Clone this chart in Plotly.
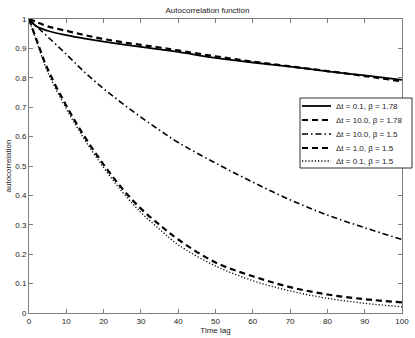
import plotly.graph_objects as go

# time lags and autocorrelation values
lag = [0, 2, 5, 10, 15, 20, 25, 30, 35, 40, 50, 60, 70, 80, 90, 100]

ac_01_178 = [1, 0.975, 0.96, 0.945, 0.933, 0.923, 0.914, 0.905, 0.897, 0.888,
             0.868, 0.852, 0.838, 0.822, 0.808, 0.793]
ac_10_178 = [1, 0.99, 0.975, 0.96, 0.945, 0.932, 0.921, 0.912, 0.903, 0.893,
             0.873, 0.855, 0.839, 0.823, 0.806, 0.788]
ac_10_15 = [1, 0.975, 0.94, 0.88, 0.818, 0.763, 0.713, 0.666, 0.622, 0.58,
            0.51, 0.445, 0.385, 0.333, 0.29, 0.25]
ac_1_15 = [1, 0.93, 0.83, 0.705, 0.598, 0.505, 0.423, 0.355, 0.30, 0.25,
           0.172, 0.125, 0.088, 0.063, 0.047, 0.036]
ac_01_15 = [1, 0.925, 0.82, 0.695, 0.588, 0.495, 0.412, 0.342, 0.285, 0.232,
            0.16, 0.11, 0.075, 0.05, 0.033, 0.021]

names = ["\u0394t = 0.1, \u03b2 = 1.78", "\u0394t = 10.0, \u03b2 = 1.78",
         "\u0394t = 10.0, \u03b2 = 1.5", "\u0394t = 1.0, \u03b2 = 1.5",
         "\u0394t = 0.1, \u03b2 = 1.5"]
series = [ac_01_178, ac_10_178, ac_10_15, ac_1_15, ac_01_15]
styles = [("solid", 1.8), ("6px,4px", 2.2), ("6px,3px,1.5px,3px", 1.6),
          ("6px,4px", 2.2), ("1.2px,2px", 1.3)]

fig = go.Figure()
for nm, ys, (dash, w) in zip(names, series, styles):
    fig.add_trace(go.Scatter(x=lag, y=ys, mode="lines", name=nm, line_shape="spline",
                             showlegend=False,
                             line=dict(color="black", width=w, dash=dash)))

# legend drawn by hand so that rows sit as tight as in the original
W, H, L, B = 373.0, 294.0, 29, 313
px = lambda v: (v - L) / W
py = lambda v: (B - v) / H
fig.add_shape(type="rect", xref="paper", yref="paper",
              x0=px(300), x1=px(412), y0=py(168), y1=py(98),
              line=dict(color="#333", width=1), fillcolor="white", layer="above")
row_y = [106, 120, 134, 148, 161]
for nm, (dash, w), yy in zip(names, styles, row_y):
    fig.add_shape(type="line", xref="paper", yref="paper",
                  x0=px(302), x1=px(331), y0=py(yy), y1=py(yy), layer="above",
                  line=dict(color="black", width=w, dash=dash))
    fig.add_annotation(text=nm, xref="paper", yref="paper", x=px(334), y=py(yy),
                       xanchor="left", yanchor="middle", showarrow=False,
                       font=dict(size=8, color="#222"))

axcol = "#7f7f7f"
fig.update_layout(
    width=415, height=338,
    margin=dict(l=29, r=13, t=19, b=25),
    paper_bgcolor="white", plot_bgcolor="white",
    font=dict(family="Liberation Sans, Arial, sans-serif", size=8, color="#222"),
    title=dict(text="Autocorrelation function", x=0.5, xanchor="center",
               y=1 - 10 / 338, yanchor="middle", font=dict(size=8)),
    showlegend=False,
)
fig.update_xaxes(range=[0, 100], dtick=10, showgrid=False, zeroline=False,
                 showline=True, linecolor=axcol, linewidth=1, mirror="ticks",
                 ticks="inside", ticklen=4, tickcolor=axcol, automargin=False,
                 title=dict(text="Time lag", standoff=1, font=dict(size=8)))
fig.update_yaxes(range=[0, 1], dtick=0.1, showgrid=False, zeroline=False,
                 showline=True, linecolor=axcol, linewidth=1, mirror="ticks",
                 ticks="inside", ticklen=4, tickcolor=axcol, automargin=False,
                 title=dict(text="autocorrelation", standoff=2, font=dict(size=8)))

# page body has an 8px default margin; drop it so the figure fills the window
fig.write_html("out.html", config={"displayModeBar": False},
               post_script="document.body.style.margin='0';")
